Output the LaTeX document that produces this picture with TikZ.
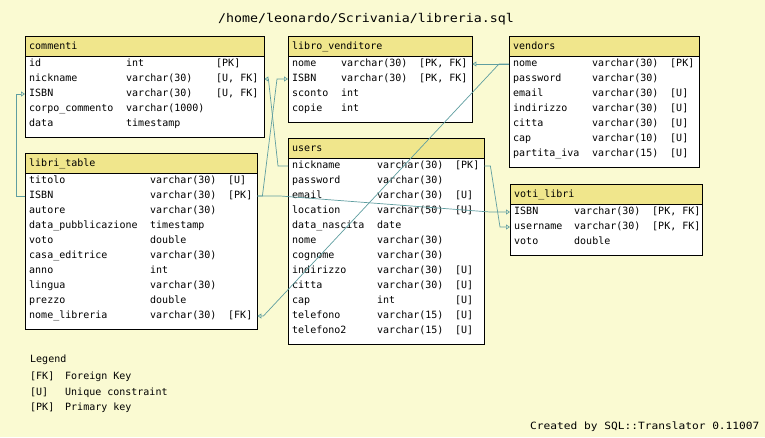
\documentclass[tikz,border=0pt]{standalone}
\usepackage{fontspec}
\usetikzlibrary{arrows.meta}
\newfontfamily\tablefont{DejaVu Sans Mono}
\newfontfamily\titlefont[FakeStretch=1.107]{DejaVu Sans Mono}
\newfontfamily\creditfont[FakeStretch=1.12]{DejaVu Sans Mono}

\definecolor{bgyellow}{RGB}{250,250,210}
\definecolor{khaki}{RGB}{240,230,140}
\definecolor{cadet}{RGB}{95,158,160}

\tikzset{
  cell/.style={anchor=west, inner sep=0pt, text height=7.5pt, text depth=2pt,
               font=\tablefont\fontsize{10}{12}\selectfont},
  rowbox/.style={anchor=west, inner sep=0pt, minimum height=15pt},
  tableline/.style={draw=black, line width=0.8pt},
  fk/.style={draw=cadet, line width=0.7pt, -{Triangle[open, length=4pt, width=5pt]}}
}

% #1 name, #2 left, #3 right, #4 top, #5 bottom, #6 type column, #7 key column, #8 fields
\newcommand{\dbtable}[8]{%
  \fill[white] (#2,#4) rectangle (#3,#5);
  \fill[khaki] (#2,#4) rectangle (#3,{#4+20});
  \draw[tableline] (#2,#4) rectangle (#3,#5);
  \draw[tableline] (#2,{#4+20}) -- (#3,{#4+20});
  \node[cell] (#1-title) at ({#2+4},{#4+11}) {#1};
  \foreach \fld/\typ/\key [count=\i] in {#8} {
    \node[rowbox, minimum width={#3pt-#2pt}] (#1-\fld) at (#2,{#4+13+15*\i}) {};
    \node[cell] (#1-\fld-n) at ({#2+4},{#4+13+15*\i}) {\fld};
    \node[cell] (#1-\fld-t) at (#6,{#4+13+15*\i}) {\typ};
    \node[cell] (#1-\fld-k) at (#7,{#4+13+15*\i}) {\key};
  }
}

\catcode`\_=12

\begin{document}
\begin{tikzpicture}[x=1pt, y=-1pt]
\useasboundingbox (0,0) rectangle (765,437);
\fill[bgyellow] (0,0) rectangle (765,437);

\node[font=\titlefont\fontsize{12}{14}\selectfont, inner sep=0pt] (title) at (366,19) {/home/leonardo/Scrivania/libreria.sql};

\dbtable{commenti}{25}{264}{36}{137}{126}{216}{
  id/int/{[PK]}, nickname/varchar(30)/{[U, FK]}, ISBN/varchar(30)/{[U, FK]},
  corpo_commento/varchar(1000)/{}, data/timestamp/{}}

\dbtable{libro_venditore}{288}{472}{36}{122}{341}{419}{
  nome/varchar(30)/{[PK, FK]}, ISBN/varchar(30)/{[PK, FK]},
  sconto/int/{}, copie/int/{}}

\dbtable{vendors}{509}{699}{36}{167}{592}{670}{
  nome/varchar(30)/{[PK]}, password/varchar(30)/{}, email/varchar(30)/{[U]},
  indirizzo/varchar(30)/{[U]}, citta/varchar(30)/{[U]}, cap/varchar(10)/{[U]},
  partita_iva/varchar(15)/{[U]}}

\dbtable{libri_table}{25}{257}{153}{329}{150}{228}{
  titolo/varchar(30)/{[U]}, ISBN/varchar(30)/{[PK]}, autore/varchar(30)/{},
  data_pubblicazione/timestamp/{}, voto/double/{}, casa_editrice/varchar(30)/{},
  anno/int/{}, lingua/varchar(30)/{}, prezzo/double/{},
  nome_libreria/varchar(30)/{[FK]}}

\dbtable{users}{288}{484}{138}{344}{377}{455}{
  nickname/varchar(30)/{[PK]}, password/varchar(30)/{}, email/varchar(30)/{[U]},
  location/varchar(50)/{[U]}, data_nascita/date/{}, nome/varchar(30)/{},
  cognome/varchar(30)/{}, indirizzo/varchar(30)/{[U]}, citta/varchar(30)/{[U]},
  cap/int/{[U]}, telefono/varchar(15)/{[U]}, telefono2/varchar(15)/{[U]}}

\dbtable{voti_libri}{510}{702}{184}{255}{574}{652}{
  ISBN/varchar(30)/{[PK, FK]}, username/varchar(30)/{[PK, FK]}, voto/double/{}}

% foreign keys
\draw[fk] (libri_table-ISBN.west) -- ++(-9,0) |- (commenti-ISBN.west);
\draw[fk] (users-nickname.west) -- ++(-10,0) -- ([xshift=4pt]commenti-nickname.east) -- (commenti-nickname.east);
\draw[fk] (libri_table-ISBN.east) -- ++(5,0) -- ([xshift=-11pt]libro_venditore-ISBN.west) -- (libro_venditore-ISBN.west);
\draw[fk] (libri_table-ISBN.east) -- ++(23,0) -- ([xshift=-20pt]voti_libri-ISBN.west) -- (voti_libri-ISBN.west);
\draw[fk] (users-nickname.east) -- ++(6,0) -- ([xshift=-10pt]voti_libri-username.west) -- (voti_libri-username.west);
\draw[fk] (vendors-nome.west) -- (libro_venditore-nome.east);
\draw[fk] (vendors-nome.west) -- ++(-10,0) -- ([xshift=6pt]libri_table-nome_libreria.east) -- (libri_table-nome_libreria.east);

% legend
\node[cell] (legend) at (30,360) {Legend};
\node[cell] (legend-fk) at (30,377) {[FK]};
\node[cell] (legend-fk-d) at (65,377) {Foreign Key};
\node[cell] (legend-u) at (30,393) {[U]};
\node[cell] (legend-u-d) at (65,393) {Unique constraint};
\node[cell] (legend-pk) at (30,408) {[PK]};
\node[cell] (legend-pk-d) at (65,408) {Primary key};

\node[cell, font=\creditfont\fontsize{10}{12}\selectfont] (credit) at (530,427) {Created by SQL::Translator 0.11007};
\end{tikzpicture}
\end{document}
